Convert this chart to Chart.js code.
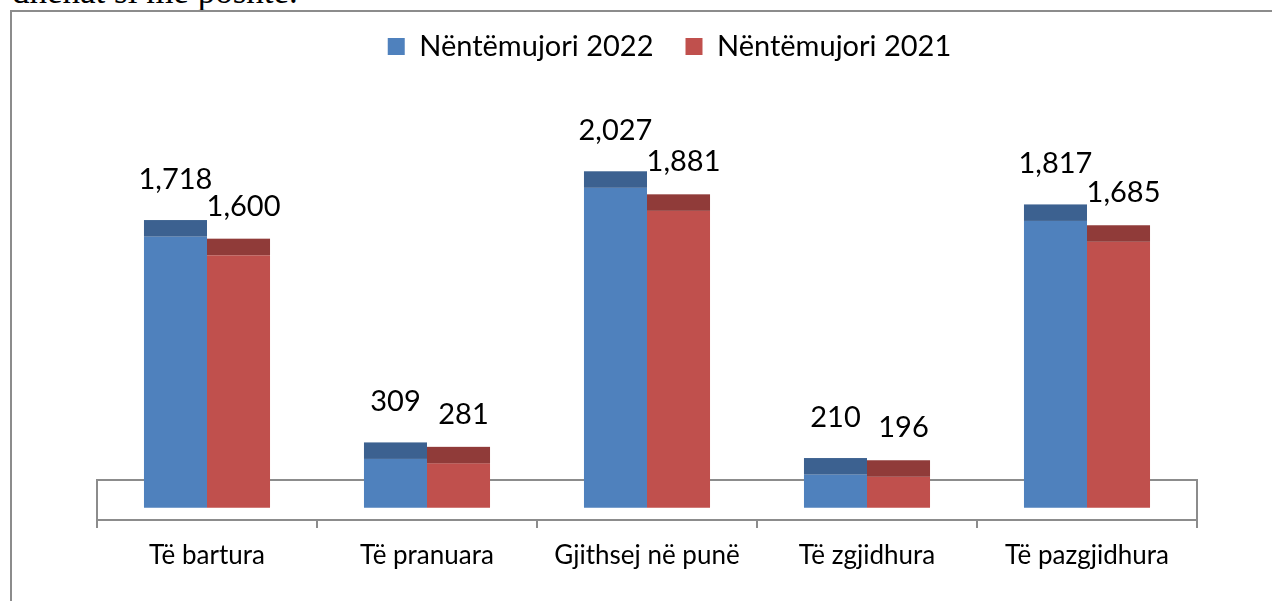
<!DOCTYPE html>
<html>
<head>
<meta charset="utf-8">
<script src="https://cdn.jsdelivr.net/npm/chart.js@4.4.1/dist/chart.umd.min.js"></script>
<style>
  html, body { margin: 0; padding: 0; background: #ffffff; overflow: hidden; }
  #page { position: relative; width: 1272px; height: 601px; overflow: hidden; }
  #intro { position: absolute; left: 12px; top: -26px; font-family: "Liberation Serif", "DejaVu Serif", serif; font-size: 35px; line-height: 35px; color: #000; white-space: nowrap; }
  #frame { position: absolute; left: 10px; top: 10px; width: 1270px; height: 600px; border-left: 2px solid #8c8c8c; border-top: 2px solid #8c8c8c; }
  #c { position: absolute; left: 0; top: 0; }
</style>
</head>
<body>
<div id="page">
  <div id="intro">dhënat si më poshtë.</div>
  <div id="frame"></div>
  <canvas id="c" width="1272" height="601"></canvas>
</div>
<script>
const categories = ['Të bartura', 'Të pranuara', 'Gjithsej në punë', 'Të zgjidhura', 'Të pazgjidhura'];
const seriesNames = ['Nëntëmujori 2022', 'Nëntëmujori 2021'];
const values2022 = [1718, 309, 2027, 210, 1817];
const values2021 = [1600, 281, 1881, 196, 1685];

const FONT = 'Lato';
const frontColors = ['#4F81BD', '#C0504D'];
const capColors = ['#3C6190', '#903B39'];
const CAP_H = 16.5;
const FLOOR_DEPTH = 40;

const floorPlugin = {
  id: 'floor',
  beforeDatasetsDraw(chart) {
    const {ctx, chartArea: a} = chart;
    const top = a.bottom - FLOOR_DEPTH;
    ctx.save();
    ctx.strokeStyle = '#8c8c8c';
    ctx.lineWidth = 2;
    ctx.beginPath();
    ctx.moveTo(a.left, a.bottom);
    ctx.lineTo(a.left, top);
    ctx.lineTo(a.right, top);
    ctx.lineTo(a.right, a.bottom);
    ctx.stroke();
    ctx.restore();
  }
};

const capsAndLabels = {
  id: 'capsAndLabels',
  afterDatasetsDraw(chart) {
    const {ctx} = chart;
    const labelOffsets = [31, 23];
    const labelShiftX = [0, 5];
    chart.data.datasets.forEach((ds, di) => {
      const meta = chart.getDatasetMeta(di);
      meta.data.forEach((bar, i) => {
        const w = bar.width;
        ctx.save();
        ctx.fillStyle = capColors[di];
        ctx.fillRect(bar.x - w / 2, bar.y - CAP_H, w, CAP_H);
        ctx.fillStyle = '#000';
        ctx.font = '29px ' + FONT;
        ctx.textAlign = 'center';
        ctx.textBaseline = 'alphabetic';
        const txt = ds.data[i].toLocaleString('en-US');
        ctx.fillText(txt, bar.x + labelShiftX[di], bar.y - CAP_H - labelOffsets[di]);
        ctx.restore();
      });
    });
  }
};

new Chart(document.getElementById('c'), {
  type: 'bar',
  data: {
    labels: categories,
    datasets: [
      { label: seriesNames[0], data: values2022, backgroundColor: frontColors[0], borderWidth: 0 },
      { label: seriesNames[1], data: values2021, backgroundColor: frontColors[1], borderWidth: 0 }
    ]
  },
  options: {
    responsive: false,
    animation: false,
    events: [],
    layout: { padding: { left: 67, right: 0, top: 0, bottom: 21 } },
    datasets: { bar: { categoryPercentage: 0.573, barPercentage: 1.0 } },
    plugins: {
      legend: {
        position: 'top',
        align: 'center',
        labels: {
          boxWidth: 17,
          boxHeight: 17,
          padding: 32,
          color: '#000',
          font: { family: FONT, size: 29 }
        }
      },
      tooltip: { enabled: false }
    },
    scales: {
      x: {
        offset: true,
        grid: { display: true, drawOnChartArea: false, drawTicks: true, tickLength: 8, offset: true, color: '#8c8c8c', lineWidth: 2 },
        border: { display: true, color: '#8c8c8c', width: 2 },
        ticks: { color: '#000', font: { family: FONT, size: 26 }, padding: 12, maxRotation: 0, autoSkip: false },
        afterFit(s) { s.height = 60; }
      },
      y: {
        position: 'left',
        min: -78,
        max: 2767,
        display: true,
        ticks: { display: false },
        grid: { display: false, drawTicks: false },
        border: { display: false },
        afterFit(s) { s.width = 30; }
      },
      yR: {
        position: 'right',
        axis: 'y',
        display: true,
        ticks: { display: false },
        grid: { display: false, drawTicks: false },
        border: { display: false },
        afterFit(s) { s.width = 75; }
      }
    }
  },
  plugins: [floorPlugin, capsAndLabels]
});
</script>
</body>
</html>
